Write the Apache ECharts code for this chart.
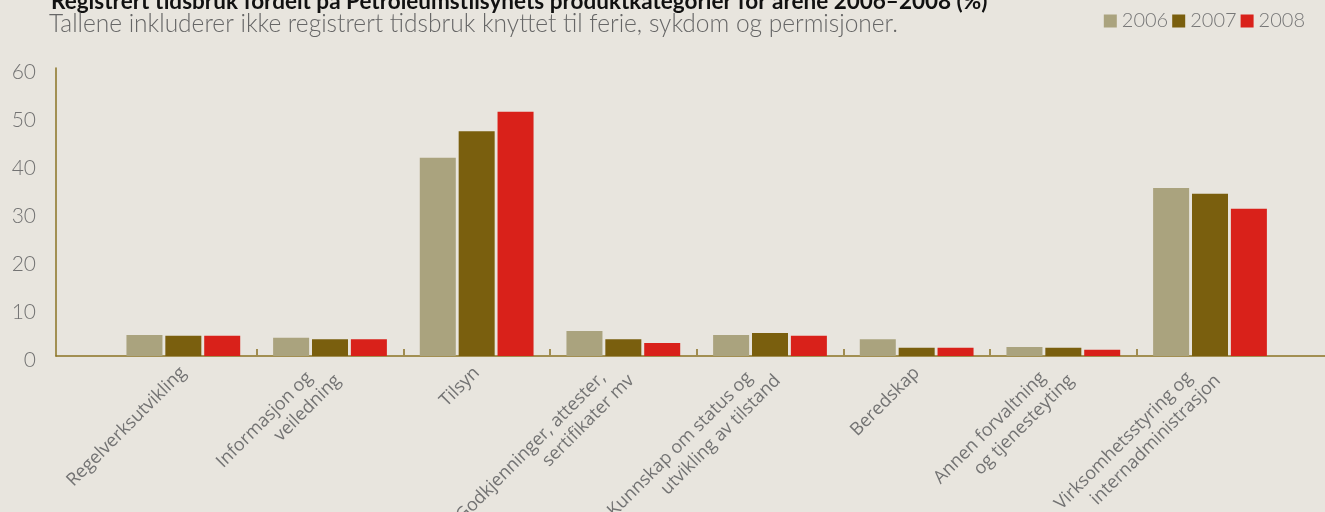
<!DOCTYPE html>
<html>
<head>
<meta charset="utf-8">
<script src="https://cdn.jsdelivr.net/npm/echarts@6/dist/echarts.min.js"></script>
<style>
  html, body { margin: 0; padding: 0; background: #e8e5de; }
  #chart { width: 1325px; height: 512px; }
</style>
</head>
<body>
<div id="chart"></div>
<script>
var categories = [
  'Regelverksutvikling',
  'Informasjon og\nveiledning',
  'Tilsyn',
  'Godkjenninger, attester,\nsertifikater mv',
  'Kunnskap om status og\nutvikling av tilstand',
  'Beredskap',
  'Annen forvaltning\nog tjenesteyting',
  'Virksomhetsstyring og\ninternadministrasjon'
];
var years = ['2006', '2007', '2008'];
var values2006 = [4.4, 3.8, 41.3, 5.2, 4.4, 3.5, 1.9, 35.0];
var values2007 = [4.2, 3.5, 46.8, 3.5, 4.8, 1.7, 1.7, 33.8];
var values2008 = [4.2, 3.5, 50.9, 2.7, 4.2, 1.7, 1.3, 30.7];
var yTicks = [0, 10, 20, 30, 40, 50, 60];

var colors = ['#aaa37e', '#7a5f0e', '#d9211a'];
var axisColor = '#8b7325';
var thin = "Lato, 'Open Sans', sans-serif";
var labelFont = "'Open Sans', sans-serif";

var myChart = echarts.init(document.getElementById('chart'));

// one empty band at the end keeps the closing tick off the canvas
var axisCats = categories.concat(['']);

var option = {
  backgroundColor: '#e8e5de',
  animation: false,
  title: [
    {
      text: 'Registrert tidsbruk fordelt på Petroleumstilsynets produktkategorier for årene 2006–2008 (%)',
      left: 46, top: -15,
      textStyle: { fontSize: 22.5, fontWeight: 'bold', color: '#111', fontFamily: thin }
    },
    {
      text: 'Tallene inkluderer ikke registrert tidsbruk knyttet til ferie, sykdom og permisjoner.',
      left: 44, top: 7,
      textStyle: { fontSize: 24.5, fontWeight: 300, color: '#666', fontFamily: thin }
    }
  ],
  legend: {
    data: years,
    right: 15, top: 6,
    icon: 'rect',
    itemWidth: 13, itemHeight: 13, itemGap: 4,
    textStyle: { fontSize: 20, fontWeight: 300, color: '#777', fontFamily: thin }
  },
  grid: [
    { left: 110, width: 1320, top: 68, bottom: 156, outerBoundsMode: 'none' },
    { left: 56, right: 0, top: 68, bottom: 156, outerBoundsMode: 'none' }
  ],
  xAxis: [
    {
      type: 'category',
      gridIndex: 0,
      data: axisCats,
      axisLine: { show: false },
      axisTick: {
        show: true, inside: true, length: 7,
        interval: function (i) { return i >= 1 && i <= 7; },
        lineStyle: { color: '#a08c50', width: 2 }
      },
      axisLabel: {
        interval: 0, rotate: 45, margin: 14, lineHeight: 22,
        fontSize: 18, color: '#737373', fontFamily: labelFont,
        formatter: function (v) {
          var parts = v.split('\n');
          if (parts.length < 2) return v;
          return '{a|' + parts[0] + '}\n{b|' + parts[1] + '}';
        },
        rich: {
          a: { fontSize: 18, color: '#737373', fontFamily: labelFont, lineHeight: 22, padding: [0, 18, 0, 0] },
          b: { fontSize: 18, color: '#737373', fontFamily: labelFont, lineHeight: 22 }
        }
      }
    },
    {
      type: 'value',
      gridIndex: 1,
      min: 0, max: 1,
      axisLine: { show: true, lineStyle: { color: axisColor, width: 1.5 } },
      axisTick: { show: false },
      axisLabel: { show: false },
      splitLine: { show: false }
    }
  ],
  yAxis: [
    {
      type: 'value',
      gridIndex: 0,
      min: 0, max: 60, interval: 10,
      show: false
    },
    {
      type: 'value',
      gridIndex: 1,
      min: yTicks[0], max: yTicks[yTicks.length - 1], interval: 10,
      axisLine: { show: true, lineStyle: { color: axisColor, width: 1.5 } },
      axisTick: { show: false },
      splitLine: { show: false },
      axisLabel: {
        margin: 20, fontSize: 21, fontWeight: 300, color: '#737373', fontFamily: thin,
        verticalAlign: 'top', lineHeight: 9
      }
    }
  ],
  series: [
    { name: years[0], type: 'bar', data: values2006 },
    { name: years[1], type: 'bar', data: values2007 },
    { name: years[2], type: 'bar', data: values2008 }
  ].map(function (s, i) {
    s.xAxisIndex = 0;
    s.yAxisIndex = 0;
    s.barWidth = 36;
    s.barGap = '8%';
    s.itemStyle = { color: colors[i] };
    return s;
  })
};

myChart.setOption(option);
</script>
</body>
</html>
